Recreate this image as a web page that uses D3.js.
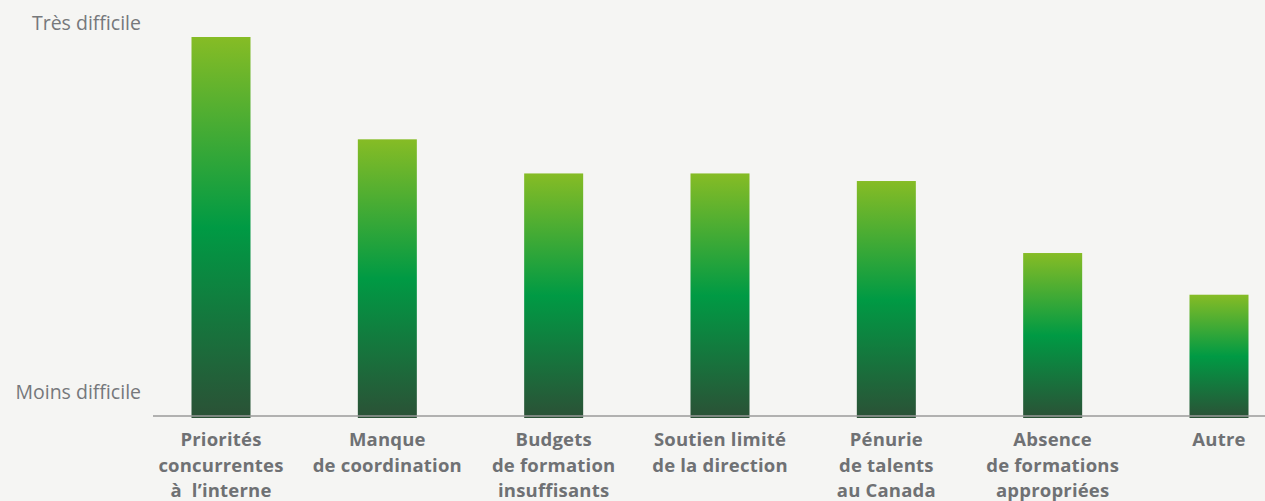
<!DOCTYPE html>
<html lang="fr">
<head>
<meta charset="utf-8">
<script src="https://cdn.jsdelivr.net/npm/d3@7"></script>
<style>
  html, body { margin: 0; padding: 0; background: #f5f5f3; }
  svg { display: block; }
  text { font-family: "Open Sans", "Noto Sans", sans-serif; }
</style>
</head>
<body>
<div id="chart"></div>
<script>
// Obstacles, ranked by perceived difficulty (0 = moins difficile, 100 = très difficile)
const categories = [
  ["Priorités", "concurrentes", "à  l’interne"],
  ["Manque", "de coordination"],
  ["Budgets", "de formation", "insuffisants"],
  ["Soutien limité", "de la direction"],
  ["Pénurie", "de talents", "au Canada"],
  ["Absence", "de formations", "appropriées"],
  ["Autre"]
];
const difficulty = [100, 73, 64, 64, 62, 43, 32];
const axisLabels = ["Moins difficile", "Très difficile"];

const W = 1265, H = 501;
const baseY = 416, topY = 37;

const svg = d3.select("#chart").append("svg")
  .attr("width", W).attr("height", H);

svg.append("rect").attr("width", W).attr("height", H).attr("fill", "#f5f5f3");

// Vertical gradient applied to each bar (relative to its own height)
const grad = svg.append("defs").append("linearGradient")
  .attr("id", "barGrad").attr("x1", 0).attr("y1", 0).attr("x2", 0).attr("y2", 1);
grad.append("stop").attr("offset", "0%").attr("stop-color", "#86bc25");
grad.append("stop").attr("offset", "50%").attr("stop-color", "#009a44");
grad.append("stop").attr("offset", "100%").attr("stop-color", "#2b5136");

const keys = categories.map((c, i) => i);
const x = d3.scalePoint().domain(keys).range([221, 1219]);
const y = d3.scaleLinear().domain([0, 100]).range([baseY, topY]);
const barW = 59;

// Bars
svg.append("g").selectAll("rect")
  .data(difficulty)
  .join("rect")
  .attr("x", (d, i) => x(i) - barW / 2)
  .attr("y", d => y(d))
  .attr("width", barW)
  .attr("height", d => y(0) - y(d) + 2)
  .attr("fill", "url(#barGrad)");

// Baseline
svg.append("line")
  .attr("x1", 153).attr("x2", W)
  .attr("y1", baseY).attr("y2", baseY)
  .attr("stroke", "#9a9a9a").attr("stroke-width", 1.5);

// Qualitative y-axis end labels
svg.append("g").selectAll("text")
  .data(axisLabels)
  .join("text")
  .attr("x", 141)
  .attr("y", (d, i) => (i === 0 ? y(0) - 17 : y(100) - 7))
  .attr("text-anchor", "end")
  .attr("font-size", 19.5)
  .attr("fill", "#76787b")
  .text(d => d);

// Category labels under the bars
const labels = svg.append("g").selectAll("text")
  .data(categories)
  .join("text")
  .attr("text-anchor", "middle")
  .attr("font-size", 18.5)
  .attr("font-weight", 700)
  .attr("fill", "#6f7174")
  .attr("letter-spacing", 0.2)
  .attr("xml:space", "preserve");

labels.selectAll("tspan")
  .data((d, i) => d.map(line => ({ line, i })))
  .join("tspan")
  .attr("x", d => x(d.i))
  .attr("y", (d, j) => 446 + j * 25.5)
  .text(d => d.line);
</script>
</body>
</html>
